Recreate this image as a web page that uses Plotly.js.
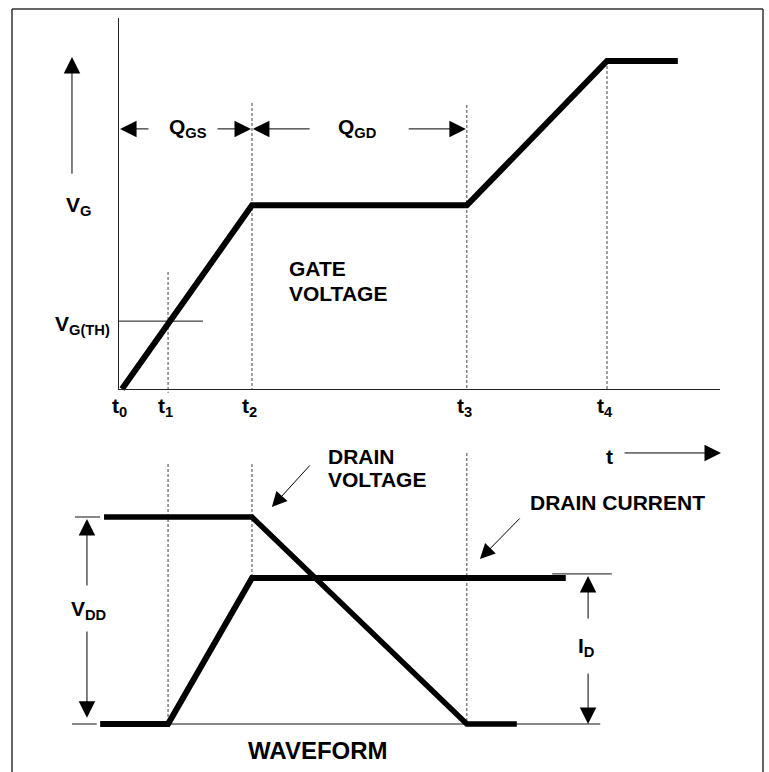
<!DOCTYPE html>
<html><head><meta charset="utf-8">
<script src="https://cdn.plot.ly/plotly-3.0.1.min.js"></script>
<style>html,body{margin:0;padding:0;background:#fff}</style>
</head><body><div id="chart" style="width:769px;height:772px"></div>
<script>
// ---- data (arbitrary time units, gate in volts, drain normalised) ----
const tMarks  = [0, 0.95, 2.68, 7.11, 10.0];          // t0..t4
const tLabels = ['t<sub>0</sub>','t<sub>1</sub>','t<sub>2</sub>','t<sub>3</sub>','t<sub>4</sub>'];
const gateT   = [0, 2.68, 7.11, 10.0, 11.46];
const gateV   = [0, 5.6, 5.6, 10.0, 10.0];
const vTh     = 2.07;
const drainVT = [-0.37, 2.68, 7.11, 8.14];
const drainV  = [1, 1, 0, 0];
const drainIT = [-0.45, 0.95, 2.68, 9.15];
const drainI  = [0, 0, 0.705, 0.705];
const VDD = 1.0, ID = 0.705;

const FONT = 'Liberation Sans, Arial, sans-serif';
const [t0,t1,t2,t3,t4] = tMarks;

const dashStyle = {color:'#444', width:1, dash:'3px,2px'};
const traces = [
  // guide lines top
  {x:[t1,t1,null,t2,t2,null,t3,t3,null,t4,t4], y:[3.57,-0.12,null,8.72,0,null,8.66,0,null,10,0],
   xaxis:'x', yaxis:'y', mode:'lines', line:dashStyle, hoverinfo:'skip'},
  // guide lines bottom
  {x:[t1,t1,null,t2,t2,null,t3,t3], y:[1.256,0,null,1.256,ID,null,1.309,0],
   xaxis:'x', yaxis:'y2', mode:'lines', line:dashStyle, hoverinfo:'skip'},
  // threshold reference line
  {x:[-0.062,1.67], y:[vTh,vTh], xaxis:'x', yaxis:'y', mode:'lines', line:{color:'#111', width:1}, hoverinfo:'skip'},
  // drain reference ticks and baseline
  {x:[-0.97,-0.45,null,-1.03,-0.52,null,8.87,10.10,null,0.91,9.86],
   y:[VDD,VDD,null,0,0,null,ID+0.02,ID+0.02,null,0,0],
   xaxis:'x', yaxis:'y2', mode:'lines', line:{color:'#111', width:1}, hoverinfo:'skip'},
  // gate voltage
  {x:gateT, y:gateV, xaxis:'x', yaxis:'y', mode:'lines', line:{color:'#000', width:6}, hoverinfo:'skip'},
  // drain voltage
  {x:drainVT, y:drainV, xaxis:'x', yaxis:'y2', mode:'lines', line:{color:'#000', width:5.5}, hoverinfo:'skip'},
  // drain current
  {x:drainIT, y:drainI, xaxis:'x', yaxis:'y2', mode:'lines', line:{color:'#000', width:6}, hoverinfo:'skip'},
  // frame axes holder
  {x:[], y:[], xaxis:'x3', yaxis:'y3', mode:'lines', hoverinfo:'skip'}
];

function arrow(xt, yt, xh, yh, yref, size) {
  return {x:xh, y:yh, ax:xt, ay:yt, xref:'x', yref:yref, axref:'x', ayref:yref,
    text:'', showarrow:true, arrowhead:2, arrowsize:size||3.3, arrowwidth:1, arrowcolor:'#000', standoff:0};
}
function label(text, x, y, yref, size, xanchor) {
  return {x:x, y:y, xref:'x', yref:yref, text:'<b>'+text+'</b>', showarrow:false,
    xanchor:xanchor||'center', yanchor:'middle', font:{family:FONT, size:size||21, color:'#000'}};
}
const ann = [
  arrow(-1.031, 6.52, -1.031, 10.12, 'y'),            // V_G up arrow
  arrow(0.577, 7.93, -0.04, 7.93, 'y'),               // Q_GS left
  arrow(1.94, 7.93, t2-0.02, 7.93, 'y'),              // Q_GS right
  arrow(3.90, 7.93, t2+0.02, 7.93, 'y'),              // Q_GD left
  arrow(5.88, 7.93, t3-0.02, 7.93, 'y'),              // Q_GD right
  arrow(10.33, -1.95, 12.35, -1.95, 'y'),             // time arrow
  arrow(-0.722, 0.662, -0.722, 0.99, 'y2'),           // V_DD up
  arrow(-0.722, 0.454, -0.722, 0.03, 'y2'),           // V_DD down
  arrow(9.61, 0.502, 9.61, ID+0.01, 'y2'),            // I_D up
  arrow(9.61, 0.251, 9.61, 0.0, 'y2'),                // I_D down
  arrow(3.90, 1.256, 3.09, 1.048, 'y2', 3.0),         // drain voltage pointer
  arrow(8.23, 1.0, 7.38, 0.797, 'y2', 3.0),           // drain current pointer
  label('Q<sub>GS</sub>', 1.36, 7.95, 'y'),
  label('Q<sub>GD</sub>', 4.85, 7.95, 'y'),
  label('V<sub>G</sub>', -0.90, 5.58, 'y'),
  label('V<sub>G(TH)</sub>', -0.81, vTh-0.13, 'y'),
  label('GATE', 3.40, 3.66, 'y', 21, 'left'),
  label('VOLTAGE', 3.40, 2.90, 'y', 21, 'left'),
  label('t', 10.06, -2.07, 'y'),
  label('DRAIN', 4.21, 1.29, 'y2', 21, 'left'),
  label('VOLTAGE', 4.21, 1.179, 'y2', 21, 'left'),
  label('DRAIN CURRENT', 10.21, 1.068, 'y2'),
  label('V<sub>DD</sub>', -0.70, 0.551, 'y2'),
  label('I<sub>D</sub>', 9.57, 0.372, 'y2'),
  label('WAVEFORM', 4.04, -0.126, 'y2', 24)
];
tMarks.forEach((t,i) => ann.push(label(tLabels[i], t-0.05, -0.55, 'y')));

const hidden = {visible:false, fixedrange:true};
const layout = {
  width:769, height:772, margin:{l:0,r:0,t:0,b:0},
  paper_bgcolor:'#fff', plot_bgcolor:'rgba(0,0,0,0)', showlegend:false,
  xaxis: Object.assign({domain:[0,1], range:[-2.515, 13.340], anchor:'y'}, hidden),
  yaxis: Object.assign({domain:[0,1], range:[-11.677, 11.860], anchor:'x'}, hidden),
  yaxis2: Object.assign({overlaying:'y', range:[-0.2319, 3.4976], anchor:'x'}, hidden),
  xaxis3: {domain:[119/769, 720/769], range:[-0.062, 12.33], anchor:'y3', showline:true, linecolor:'#222', linewidth:1.2,
           showticklabels:false, ticks:'', showgrid:false, zeroline:false, fixedrange:true},
  yaxis3: {domain:[1-389/772, 1-18/772], range:[0, 11.31], anchor:'x3', showline:true, linecolor:'#222', linewidth:1.2,
           showticklabels:false, ticks:'', showgrid:false, zeroline:false, fixedrange:true},
  annotations: ann,
  shapes: [
    {type:'line', xref:'paper', yref:'paper', x0:12/769, x1:12/769, y0:0, y1:1-9/772, line:{color:'#333', width:1.5}},
    {type:'line', xref:'paper', yref:'paper', x0:12/769, x1:763/769, y0:1-9/772, y1:1-9/772, line:{color:'#333', width:1.5}},
    {type:'line', xref:'paper', yref:'paper', x0:763/769, x1:763/769, y0:0, y1:1-9/772, line:{color:'#333', width:1.5}}
  ]
};
Plotly.newPlot('chart', traces, layout, {staticPlot:true, displayModeBar:false});
</script></body></html>
